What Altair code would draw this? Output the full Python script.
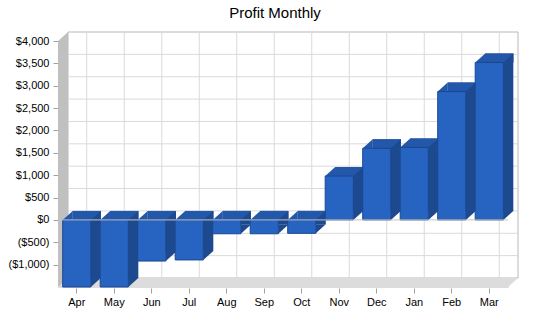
import altair as alt
import pandas as pd

months = ["Apr", "May", "Jun", "Jul", "Aug", "Sep", "Oct", "Nov", "Dec", "Jan", "Feb", "Mar"]
profit = [-1500, -1500, -920, -895, -310, -310, -300, 980, 1600, 1620, 2870, 3520]
y_ticks = [-1000, -500, 0, 500, 1000, 1500, 2000, 2500, 3000, 3500, 4000]
grid_y = [-1000, -500, 0, 500, 1000, 1500, 2000, 2500, 3000, 3500]
y_min, y_max = -1500, 4000

W, H = 450, 246
DX, DY = 10, -9
HALF = W / 12 * 0.75 / 2  # half bar width in px

FRONT = "#2764c2"
SIDE = "#1d4a8f"
TOP = "#2357aa"
EDGE = "#1b4791"
WALL = "#c0c0c0"
FLOOR = "#dcdcdc"
GRID = "#dadada"
FONT = "Liberation Sans"

df = pd.DataFrame({"month": months, "profit": profit})
df["top"] = df["profit"].clip(lower=0)
df["bot"] = df["profit"].clip(upper=0)

yscale = alt.Scale(domain=[y_min, y_max], nice=False, zero=False)
yaxis = alt.Axis(
    values=y_ticks, title=None, grid=False, domain=False, tickSize=5,
    tickColor="#a0a0a0", labelPadding=4, labelFont=FONT, labelFontSize=11,
    labelColor="#000000",
    labelExpr="datum.value < 0 ? '($' + format(-datum.value, ',') + ')' : '$' + format(datum.value, ',')",
)
xscale = alt.Scale(domain=months, paddingInner=0.25, paddingOuter=0.125)
xaxis = alt.Axis(
    title=None, grid=False, domain=False, tickSize=5, tickColor="#a0a0a0",
    labelAngle=0, labelPadding=3, labelFont=FONT, labelFontSize=11,
    labelColor="#000000", offset=1,
)

X = lambda: alt.X("month:N", scale=xscale, axis=xaxis, sort=months)
def Yf(f):
    return alt.Y(f"{f}:Q", scale=yscale, axis=yaxis)
def Yd(v):
    return alt.YDatum(v, scale=yscale, axis=yaxis)

SHAPE_A = "M -1 0.9 L 1 -0.9 L 1 0.9 Z"
SHAPE_B = "M -1 -0.9 L 1 -0.9 L -1 0.9 Z"

base = alt.Chart(df)
one = alt.Chart(pd.DataFrame({"k": [0]}))

# back wall
wall = one.mark_rect(fill="#ffffff", stroke="#b8b8b8", strokeWidth=1, yOffset=DY, y2Offset=DY).encode(
    x=alt.value(DX), x2=alt.value(W + DX), y=Yd(y_max), y2=alt.Y2Datum(y_min)
)
hgrid = alt.Chart(pd.DataFrame({"g": grid_y})).mark_rule(color=GRID, strokeWidth=1, yOffset=DY).encode(
    x=alt.value(DX), x2=alt.value(W + DX), y=Yf("g")
)
vgrid = base.mark_rule(color=GRID, strokeWidth=1, xOffset=DX, yOffset=DY, y2Offset=DY).encode(
    x=X(), y=Yd(y_max), y2=alt.Y2Datum(y_min)
)
# left side wall
lwall = one.mark_rect(fill=WALL).encode(
    x=alt.value(0), x2=alt.value(DX), y=Yd(y_max), y2=alt.Y2Datum(y_min)
)
lwall_tri = one.mark_point(shape=SHAPE_A, size=100, filled=True, opacity=1, color=WALL, strokeWidth=0, yOffset=DY / 2).encode(
    x=alt.value(DX / 2), y=Yd(y_max)
)
# floor
floor = one.mark_rect(fill=FLOOR, yOffset=DY).encode(
    x=alt.value(DX), x2=alt.value(W), y=Yd(y_min), y2=alt.Y2Datum(y_min)
)
floor_l = one.mark_point(shape=SHAPE_A, size=100, filled=True, opacity=1, color=FLOOR, strokeWidth=0, yOffset=DY / 2).encode(
    x=alt.value(DX / 2), y=Yd(y_min)
)
floor_r = one.mark_point(shape=SHAPE_B, size=100, filled=True, opacity=1, color=FLOOR, strokeWidth=0, yOffset=DY / 2).encode(
    x=alt.value(W + DX / 2), y=Yd(y_min)
)

# bars
back = base.mark_bar(color=SIDE, xOffset=DX, yOffset=DY, y2Offset=DY).encode(
    x=X(), y=Yf("top"), y2="bot:Q"
)
cap = base.mark_bar(color=TOP, xOffset=DX, yOffset=DY, y2Offset=0).encode(
    x=X(), y=Yf("top"), y2="top:Q"
)
tri_tl = base.mark_point(shape=SHAPE_A, size=100, filled=True, opacity=1, color=TOP, strokeWidth=0,
                         xOffset=-HALF + DX / 2, yOffset=DY / 2).encode(x=X(), y=Yf("top"))
tri_tr = base.mark_point(shape=SHAPE_A, size=100, filled=True, opacity=1, color=SIDE, strokeWidth=0,
                         xOffset=HALF + DX / 2, yOffset=DY / 2).encode(x=X(), y=Yf("top"))
tri_br = base.mark_point(shape=SHAPE_B, size=100, filled=True, opacity=1, color=SIDE, strokeWidth=0,
                         xOffset=HALF + DX / 2, yOffset=DY / 2).encode(x=X(), y=Yf("bot"))
front = base.mark_bar(color=FRONT, stroke=EDGE, strokeWidth=1).encode(
    x=X(), y=Yf("top"), y2="bot:Q"
)
zero = one.mark_rule(color="#c4c4c4", strokeWidth=1).encode(
    x=alt.value(0), x2=alt.value(W), y=Yd(0)
)

chart = alt.layer(
    wall, hgrid, vgrid, lwall, lwall_tri, floor, floor_l, floor_r,
    back, cap, tri_tl, tri_tr, tri_br, front, zero,
).properties(
    width=W, height=H,
    title=alt.Title("Profit Monthly", font=FONT, fontSize=15, fontWeight="normal",
                    color="#000000", anchor="middle", frame="group", dx=-8, dy=-7),
    padding={"left": 58, "top": 41, "right": 42, "bottom": 31},
    autosize=alt.AutoSizeParams(type="none"),
).configure_view(stroke=None).configure(background="#ffffff")

chart.save("out.html", embed_options={"renderer": "svg", "actions": False})
